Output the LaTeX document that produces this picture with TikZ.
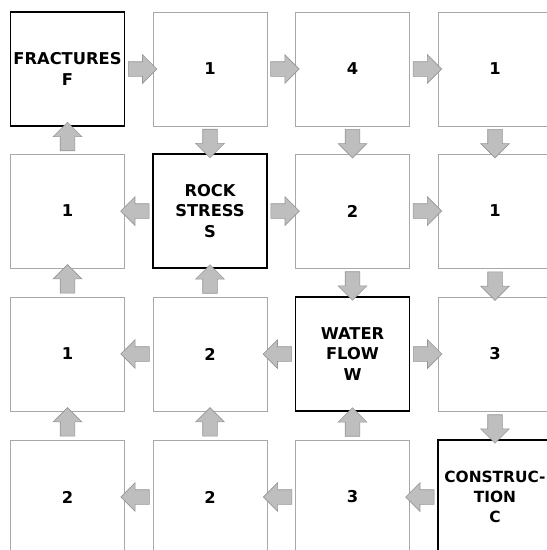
\documentclass[tikz,border=0pt]{standalone}
\usepackage{fontspec}
\setmainfont{DejaVu Sans}
\usetikzlibrary{shapes.arrows}
\definecolor{boxgray}{HTML}{A8A8A8}
\definecolor{arrowfill}{HTML}{BEBEBE}
\definecolor{arrowedge}{HTML}{969696}
\begin{document}
\begin{tikzpicture}[x=1pt,y=-1pt,
  cell/.style={draw=boxgray, line width=0.8pt, fill=white, minimum width=114pt, minimum height=114pt, inner sep=0pt, align=center, font=\bfseries\fontsize{16.3}{20.3}\selectfont},
  key/.style={cell, draw=black, line width=1.5pt},
  barrow/.style={single arrow, draw=arrowedge, fill=arrowfill, line width=0.6pt, minimum height=28.5pt, minimum width=28pt, single arrow head extend=7pt, inner xsep=0pt, inner ysep=7pt, anchor=center}]
\useasboundingbox (0,0) rectangle (547,550);
\clip (0,0) rectangle (547,550);
% row 1
\node[key]  (F)   at (67.5,69)  {FRACTURES\\F};
\node[cell] (a12) at (210,69)   {1};
\node[cell] (a13) at (352.5,69) {4};
\node[cell] (a14) at (495,69)   {1};
% row 2
\node[cell] (a21) at (67.5,211)  {1};
\node[key]  (S)   at (210,211)   {ROCK\\STRESS\\S};
\node[cell] (a23) at (352.5,211) {2};
\node[cell] (a24) at (495,211)   {1};
% row 3
\node[cell] (a31) at (67.5,354)  {1};
\node[cell] (a32) at (210,354)   {2};
\node[key]  (W)   at (352.5,354) {WATER\\FLOW\\W};
\node[cell] (a34) at (495,354)   {3};
% row 4
\node[cell] (a41) at (67.5,497)  {2};
\node[cell] (a42) at (210,497)   {2};
\node[cell] (a43) at (352.5,497) {3};
\node[key, font=\bfseries\fontsize{15.4}{20.3}\selectfont]  (C)   at (495,497)   {CONSTRUC-\\TION\\C};
% horizontal arrows
\path (F.east)   -- node[barrow]{} (a12.west);
\path (a12.east) -- node[barrow]{} (a13.west);
\path (a13.east) -- node[barrow]{} (a14.west);
\path (S.west)   -- node[barrow, rotate=180]{} (a21.east);
\path (S.east)   -- node[barrow]{} (a23.west);
\path (a23.east) -- node[barrow]{} (a24.west);
\path (a32.west) -- node[barrow, rotate=180]{} (a31.east);
\path (W.west)   -- node[barrow, rotate=180]{} (a32.east);
\path (W.east)   -- node[barrow]{} (a34.west);
\path (a42.west) -- node[barrow, rotate=180]{} (a41.east);
\path (a43.west) -- node[barrow, rotate=180]{} (a42.east);
\path (C.west)   -- node[barrow, rotate=180]{} (a43.east);
% vertical arrows
\path (a21.north) -- node[barrow, rotate=90]{} (F.south);
\path (a12.south) -- node[barrow, rotate=-90]{} (S.north);
\path (a13.south) -- node[barrow, rotate=-90]{} (a23.north);
\path (a14.south) -- node[barrow, rotate=-90]{} (a24.north);
\path (a31.north) -- node[barrow, rotate=90]{} (a21.south);
\path (a32.north) -- node[barrow, rotate=90]{} (S.south);
\path (a23.south) -- node[barrow, rotate=-90]{} (W.north);
\path (a24.south) -- node[barrow, rotate=-90]{} (a34.north);
\path (a41.north) -- node[barrow, rotate=90]{} (a31.south);
\path (a42.north) -- node[barrow, rotate=90]{} (a32.south);
\path (a43.north) -- node[barrow, rotate=90]{} (W.south);
\path (a34.south) -- node[barrow, rotate=-90]{} (C.north);
\end{tikzpicture}
\end{document}
